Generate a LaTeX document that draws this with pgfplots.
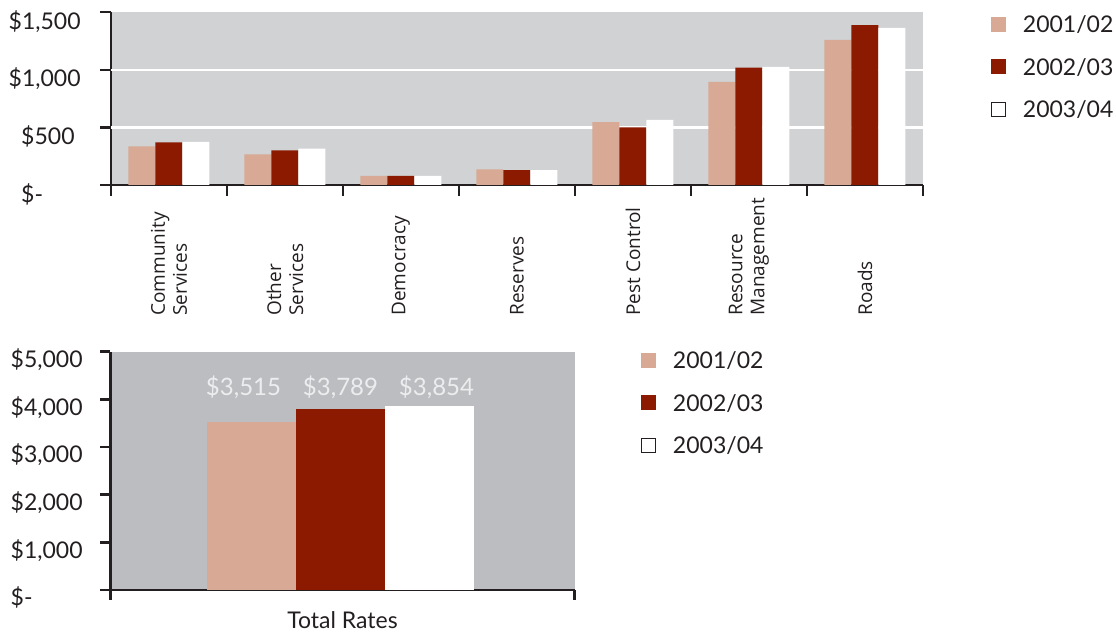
\documentclass[border=0pt]{standalone}
\usepackage{fontspec}
\setmainfont{Lato}
\newfontfamily\catfont{Open Sans}
\usepackage{pgfplots}
\usepackage{pgfplotstable}
\pgfplotsset{compat=1.18}
\definecolor{cA}{RGB}{216,169,149}
\definecolor{cB}{RGB}{139,26,0}
\definecolor{bgTop}{RGB}{209,210,212}
\definecolor{bgBot}{RGB}{188,189,192}
\definecolor{ink}{RGB}{35,31,32}
\definecolor{vlab}{RGB}{236,237,238}

\pgfplotstableread{
x y1 y2 y3
0 335 370 375
1 265 300 315
2 80 80 80
3 135 130 130
4 545 500 565
5 895 1020 1025
6 1260 1389 1364
}\cats

\pgfplotsset{
  common/.style={
    scale only axis,
    anchor=south west,
    axis lines*=left,
    axis line style={ink, line width=1.2pt},
    tick align=outside,
    tick style={ink, line width=1.2pt},
    /pgf/number format/assume math mode=true,
    ybar=0pt,
    yticklabel style={anchor=east, inner sep=0pt, font=\fontsize{11.5}{13}\selectfont, text=ink},
    legend style={draw=none, fill=none, inner sep=0pt, outer sep=0pt,
      anchor=north west, row sep=13.25pt, column sep=0pt,
      font=\fontsize{11.5}{13}\selectfont, text=ink,
      nodes={inner sep=0pt, text height=8pt, text depth=0pt}},
    legend cell align=left,
  },
  sqA/.style={legend image code/.code={\fill[cA] (0pt,-3.5pt) rectangle (7.5pt,4pt); \path (16pt,0pt);}},
  sqB/.style={legend image code/.code={\fill[cB] (0pt,-3.5pt) rectangle (7.5pt,4pt); \path (16pt,0pt);}},
  sqC/.style={legend image code/.code={\draw[ink, fill=white, line width=0.6pt] (0.3pt,-3.2pt) rectangle (7.2pt,3.7pt); \path (16pt,0pt);}},
}

\begin{document}
\begin{tikzpicture}[x=1pt,y=1pt]
\useasboundingbox (0,0) rectangle (558,316);
\begin{axis}[common,
  at={(55.5pt,223.5pt)},
  width=406pt, height=86.35pt,
  xmin=-0.5, xmax=6.5, ymin=0, ymax=1500,
  axis background/.style={fill=bgTop},
  major tick length=5.5pt,
  xtick={-0.5,0.5,1.5,2.5,3.5,4.5,5.5,6.5},
  x tick label as interval,
  xticklabels={{Community\\Services}, {Other\\Services}, Democracy, Reserves, Pest Control, {Resource\\Management}, Roads},
  xticklabel style={font=\catfont\fontsize{9.5}{11}\selectfont, text=ink, align=left, inner sep=0pt, yshift=-60pt, rotate=90, anchor=west},
  ytick={0,500,1000,1500},
  yticklabels={{\rlap{\$-}\phantom{\$500}\kern3pt}, {\$500\kern3pt}, {\$1,000}, {\$1,500}},
  yticklabel style={xshift=-9.5pt, yshift=-4.5pt},
  extra y ticks={500,1000}, extra y tick labels={},
  extra y tick style={grid=major, major tick length=0pt},
  major grid style={white, line width=1.3pt},
  bar width=13.5pt,
  legend style={at={(axis description cs:1.0837,0.973)}},
]
\addplot[fill=cA, draw=none, sqA] table[x=x, y=y1] {\cats};
\addplot[fill=cB, draw=none, sqB] table[x=x, y=y2] {\cats};
\addplot[fill=white, draw=none, sqC] table[x=x, y=y3] {\cats};
\legend{2001/02, 2002/03, 2003/04}
\end{axis}

\begin{axis}[common,
  at={(55.25pt,21pt)},
  width=232pt, height=119.15pt,
  xmin=-1, xmax=1.0174, ymin=0, ymax=5000,
  axis background/.style={fill=bgBot},
  major tick length=5pt,
  xtick={-1,1.0174},
  x tick label as interval,
  xticklabels={Total Rates},
  xticklabel style={font=\fontsize{11.5}{13}\selectfont, text=ink, inner sep=0pt, yshift=-5.5pt},
  ytick={0,1000,2000,3000,4000,5000},
  yticklabels={{\rlap{\$-}\phantom{\$0,000}}, {\$1,000}, {\$2,000}, {\$3,000}, {\$4,000}, {\$5,000}},
  yticklabel style={xshift=-8.75pt, yshift=-4pt},
  bar width=44.5pt,
  legend style={at={(axis description cs:1.1433,0.995)}},
]
\addplot[fill=cA, draw=none, sqA] coordinates {(0,3515)};
\addplot[fill=cB, draw=none, sqB] coordinates {(0,3789)};
\addplot[fill=white, draw=none, sqC] coordinates {(0,3854)};
\legend{2001/02, 2002/03, 2003/04}
\node[font=\fontsize{12}{14}\selectfont, text=vlab, xshift=-48.5pt] at (axis cs:0,4260) {\$3,515};
\node[font=\fontsize{12}{14}\selectfont, text=vlab] at (axis cs:0,4260) {\$3,789};
\node[font=\fontsize{12}{14}\selectfont, text=vlab, xshift=48pt] at (axis cs:0,4260) {\$3,854};
\end{axis}
\end{tikzpicture}
\end{document}
